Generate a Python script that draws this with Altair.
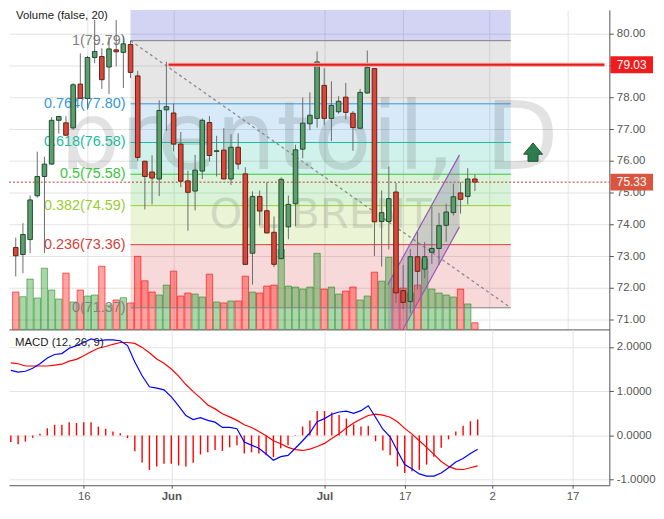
import altair as alt
import pandas as pd

# ---------------- data ----------------
idx = list(range(65))
opens = [73.27, 73.05, 73.52, 74.90, 75.51, 75.90, 77.28, 77.20, 77.04, 78.42,
         77.97, 79.26, 79.29, 78.96, 79.50, 79.42, 79.67, 78.68, 75.99, 75.65,
         75.43, 77.61, 77.51, 76.53, 75.37, 75.05, 75.68, 77.21, 76.30, 76.34,
         75.43, 76.43, 75.59, 73.09, 74.88, 74.43, 73.75, 72.92, 73.92, 74.65,
         76.37, 77.17, 77.34, 78.38, 77.34, 77.55, 78.01, 77.50, 77.03, 78.14,
         78.91, 74.09, 74.09, 75.02, 71.91, 71.57, 72.98, 72.59, 73.12, 73.24,
         73.97, 74.37, 74.99, 74.88, 75.43]
highs = [73.58, 74.04, 74.91, 76.29, 76.13, 77.38, 77.42, 77.41, 78.45, 79.39,
         79.31, 80.44, 79.55, 79.90, 80.44, 79.92, 79.79, 78.84, 76.00, 76.18,
         77.91, 79.13, 77.81, 76.91, 75.69, 76.19, 77.34, 77.41, 76.79, 77.03,
         76.84, 76.87, 75.80, 75.04, 75.07, 75.33, 74.25, 75.48, 74.91, 76.51,
         78.00, 78.16, 79.45, 78.92, 78.51, 78.04, 78.46, 77.57, 78.27, 79.48,
         78.91, 75.07, 75.82, 75.31, 72.72, 73.22, 73.76, 73.44, 74.57, 74.36,
         74.65, 75.28, 75.33, 75.77, 75.57]
lows = [72.36, 72.46, 73.09, 74.84, 73.10, 75.88, 76.86, 76.78, 76.98, 77.97,
        77.62, 79.08, 78.27, 78.11, 78.98, 78.30, 78.61, 76.00, 74.47, 74.63,
        74.89, 76.94, 76.30, 75.17, 73.80, 74.44, 75.43, 75.98, 75.51, 75.43,
        75.24, 75.73, 72.72, 72.10, 73.97, 73.71, 72.65, 72.90, 73.53, 73.94,
        76.08, 76.97, 77.05, 77.13, 76.63, 77.49, 77.31, 76.32, 77.00, 78.12,
        73.00, 72.67, 73.21, 71.52, 71.33, 71.21, 71.95, 72.30, 72.75, 72.72,
        73.45, 74.28, 74.34, 74.63, 75.05]
closes = [73.01, 73.68, 74.77, 75.51, 75.90, 77.28, 77.40, 76.81, 78.40, 77.97,
          79.26, 79.45, 78.56, 79.53, 79.44, 79.69, 78.79, 76.11, 75.51, 75.46,
          77.59, 77.71, 76.53, 75.36, 75.01, 75.71, 77.28, 76.17, 76.32, 75.43,
          76.43, 75.90, 72.74, 74.88, 74.42, 73.73, 72.74, 75.42, 74.63, 76.35,
          77.19, 77.44, 79.12, 77.34, 77.75, 77.88, 77.53, 77.05, 78.16, 78.95,
          74.08, 74.37, 74.81, 71.84, 71.54, 72.98, 72.52, 72.98, 73.24, 73.96,
          74.39, 74.87, 74.79, 75.43, 75.33]
volumes = [37.7, 33.0, 50.7, 31.7, 61.7, 39.7, 30.7, 56.7, 27.7, 39.7,
           33.7, 34.7, 63.7, 24.7, 29.7, 32.0, 26.7, 73.7, 49.0, 37.7,
           34.7, 44.7, 58.7, 33.7, 36.7, 35.7, 32.7, 55.7, 27.7, 26.7,
           28.7, 28.7, 53.7, 37.7, 36.7, 43.7, 44.7, 80.7, 43.7, 42.7,
           40.7, 42.7, 76.7, 40.7, 42.7, 35.7, 38.7, 42.7, 29.7, 33.7,
           57.7, 48.7, 72.7, 41.7, 41.7, 36.7, 44.7, 70.7, 40.7, 36.7,
           34.7, 32.7, 40.7, 25.7, 6.7]
macd_line = [1.47, 1.43, 1.45, 1.52, 1.62, 1.75, 1.83, 1.85, 1.97, 2.03,
             2.10, 2.18, 2.14, 2.16, 2.16, 2.14, 2.03, 1.66, 1.35, 1.10,
             1.07, 1.03, 0.87, 0.67, 0.45, 0.36, 0.40, 0.34, 0.30, 0.18,
             0.18, 0.15, -0.15, -0.22, -0.29, -0.42, -0.56, -0.48, -0.45, -0.29,
             -0.12, 0.06, 0.31, 0.38, 0.48, 0.53, 0.55, 0.50, 0.56, 0.67,
             0.41, 0.14, -0.03, -0.35, -0.66, -0.76, -0.87, -0.92, -0.92, -0.85,
             -0.73, -0.60, -0.52, -0.41, -0.31]
signal_line = [1.64, 1.62, 1.57, 1.57, 1.57, 1.57, 1.59, 1.61, 1.68, 1.72,
               1.80, 1.89, 1.97, 2.01, 2.06, 2.10, 2.10, 2.08, 1.99, 1.87,
               1.73, 1.63, 1.50, 1.34, 1.15, 0.99, 0.85, 0.69, 0.60, 0.49,
               0.42, 0.34, 0.24, 0.18, 0.09, -0.01, -0.12, -0.19, -0.27, -0.32,
               -0.34, -0.31, -0.25, -0.18, -0.07, 0.04, 0.17, 0.28, 0.37, 0.45,
               0.48, 0.46, 0.41, 0.31, 0.16, 0.03, -0.12, -0.27, -0.43, -0.59,
               -0.70, -0.76, -0.77, -0.73, -0.69]
histogram = [-0.15, -0.20, -0.14, -0.05, 0.035, 0.16, 0.24, 0.24, 0.30, 0.28,
             0.30, 0.30, 0.20, 0.15, 0.09, 0.05, -0.06, -0.36, -0.61, -0.78,
             -0.70, -0.64, -0.64, -0.68, -0.70, -0.62, -0.43, -0.38, -0.33, -0.35,
             -0.27, -0.22, -0.41, -0.38, -0.41, -0.45, -0.49, -0.29, -0.22, -0.01,
             0.20, 0.34, 0.55, 0.55, 0.52, 0.46, 0.38, 0.25, 0.20, 0.22,
             -0.13, -0.34, -0.45, -0.70, -0.85, -0.81, -0.78, -0.66, -0.48, -0.28,
             -0.09, 0.09, 0.22, 0.32, 0.36]

tick_idx = [10, 22, 43, 54, 66, 77]
tick_text = ["16", "Jun", "Jul", "17", "2", "17"]
month_ticks = [22, 43]
price_ticks = [71, 72, 73, 74, 75, 76, 77, 78, 79, 80]
macd_ticks = [-1, 0, 1, 2]

fib_ratio = ["1", "0.764", "0.618", "0.5", "0.382", "0.236", "0"]
fib_price = [79.79, 77.80, 76.58, 75.58, 74.59, 73.36, 71.37]
fib_ext_ratio = "1.618"
fib_ext_price = 84.99
fib_x = [16, 69]

level_price = 79.03
level_x = 21.3
last_price = closes[-1]

chan_x = [51.86, 61.85]
chan_upper = [72.10, 76.19]
chan_lower = [69.82, 73.92]

arrow_x = [72.1]
arrow_price = [76.27]

watermark_main = ["brentoil, D"]
watermark_sub = ["OIL BRENT"]
volume_title = ["Volume (false, 20)"]
macd_title = ["MACD (12, 26, 9)"]

# ---------------- layout / style ----------------
W, H1, H2 = 605, 322, 157
X_DOM = [-0.25, 82.05]
P_DOM = [70.688, 80.76]
M_DOM = [-1.126, 2.396]
VOL_DOM = [0, H1]
FONT = "Liberation Sans"
fib_colors = ["#808080", "#3498DB", "#1ABC9C", "#3CC43C", "#9ACD32", "#D43F3A", "#808080"]
ext_color = "#2323C3"
UP_FILL, UP_STROKE = "#5E9E6E", "#1F4D2E"
DN_FILL, DN_STROKE = "#D5483A", "#6B1E14"
ARROW = "M0,-1L1,0.2L0.53,0.2L0.53,0.95L-0.53,0.95L-0.53,0.2L-1,0.2Z"
BOX = "M-1,-0.395H1V0.395H-1Z"

# ---------------- tables ----------------
df = pd.DataFrame(dict(i=idx, open=opens, high=highs, low=lows, close=closes,
                       volume=volumes, macd=macd_line, signal=signal_line,
                       hist=histogram))
band_keys = [fib_ext_ratio] + fib_ratio[:-1]
band_df = pd.DataFrame(dict(key=band_keys, top=[fib_ext_price] + fib_price[:-1],
                            bottom=fib_price, x0=fib_x[0], x1=fib_x[1]))
fib_df = pd.DataFrame(dict(ratio=fib_ratio, price=fib_price, x0=fib_x[0], x1=fib_x[1],
                           label=[f"{r}({p:.2f})" for r, p in zip(fib_ratio, fib_price)]))
trend_df = pd.DataFrame(dict(x=fib_x, price=[fib_price[0], fib_price[-1]]))
chan_df = pd.DataFrame(dict(x=chan_x, upper=chan_upper, lower=chan_lower))
level_df = pd.DataFrame(dict(x0=[level_x], x1=[X_DOM[1]], price=[level_price]))
last_df = pd.DataFrame(dict(price=[last_price]))
arrow_df = pd.DataFrame(dict(x=arrow_x, price=arrow_price))
box_df = pd.DataFrame(dict(price=[level_price, last_price], kind=["level", "last"],
                           label=[f"{level_price:.2f}", f"{last_price:.2f}"]))

xs = alt.Scale(domain=X_DOM, nice=False, zero=False)
ps = alt.Scale(domain=P_DOM, nice=False, zero=False)
ms = alt.Scale(domain=M_DOM, nice=False, zero=False)

label_expr = " : ".join(f"datum.value == {v} ? '{t}'" for v, t in zip(tick_idx, tick_text)) + " : ''"
bold_test = " || ".join(f"datum.value == {v}" for v in month_ticks)

top_xaxis = alt.Axis(values=tick_idx, labels=False, ticks=False, domain=True, grid=True, title=None)
price_axis = alt.Axis(orient="right", values=price_ticks, format=".2f", tickSize=4,
                      labelPadding=3, grid=True, title=None, domain=True)
bot_xaxis = alt.Axis(values=tick_idx, labelExpr=label_expr,
                     labelFontWeight={"condition": {"test": bold_test, "value": "bold"}, "value": "normal"},
                     tickSize=3, labelPadding=2, grid=True, domain=True, title=None)
macd_axis = alt.Axis(orient="right", values=macd_ticks,
                     labelExpr="replace(format(datum.value, '.4f'), '\u2212', '-')",
                     tickSize=4, labelPadding=3, grid=True, title=None, domain=True)


def XT(f):
    return alt.X(f"{f}:Q", scale=xs, axis=top_xaxis)


def YP(f, axis=None):
    return alt.Y(f"{f}:Q", scale=ps, axis=axis)


def XM(f):
    return alt.X(f"{f}:Q", scale=xs, axis=bot_xaxis)


def YM(f):
    return alt.Y(f"{f}:Q", scale=ms, axis=macd_axis)


up = "datum.close >= datum.open"

bands = alt.Chart(band_df).mark_rect(clip=True, opacity=0.2).encode(
    x=XT("x0"), x2="x1", y=YP("top", price_axis), y2="bottom",
    color=alt.Color("key:N", scale=alt.Scale(domain=band_keys, range=[ext_color] + fib_colors[:-1]), legend=None))

wm1 = alt.Chart(pd.DataFrame(dict(t=watermark_main))).mark_text(
    font="DejaVu Sans", fontSize=96, color="#000000", opacity=0.11, align="center", baseline="alphabetic"
).encode(x=alt.value(W / 2), y=alt.value(160), text="t:N")
wm2 = alt.Chart(pd.DataFrame(dict(t=watermark_sub))).mark_text(
    font="DejaVu Sans", fontSize=42, color="#000000", opacity=0.11, align="center", baseline="alphabetic"
).encode(x=alt.value(314), y=alt.value(220), text="t:N")

vol = alt.Chart(df).mark_bar(size=6.4, strokeWidth=1, clip=True, orient="vertical").encode(
    x=XT("i"),
    y=alt.Y("volume:Q", scale=alt.Scale(domain=VOL_DOM, nice=False), axis=None),
    fill=alt.condition(up, alt.value("#008000"), alt.value("#FF0000")),
    stroke=alt.condition(up, alt.value("#008000"), alt.value("#FF0000")),
    fillOpacity=alt.condition(up, alt.value(0.33), alt.value(0.36)),
    strokeOpacity=alt.condition(up, alt.value(0.5), alt.value(0.6)))

fib_lines = alt.Chart(fib_df).mark_rule(strokeWidth=1).encode(
    x=XT("x0"), x2="x1", y=YP("price"),
    color=alt.Color("ratio:N", scale=alt.Scale(domain=fib_ratio, range=fib_colors), legend=None))
fib_labels = alt.Chart(fib_df).mark_text(align="right", baseline="middle", dx=-5, fontSize=14.5, font=FONT).encode(
    x=XT("x0"), y=YP("price"), text="label:N",
    color=alt.Color("ratio:N", scale=alt.Scale(domain=fib_ratio, range=fib_colors), legend=None))

trend = alt.Chart(trend_df).mark_line(strokeDash=[3, 3], color="#8A8A8A", strokeWidth=1.3).encode(
    x=XT("x"), y=YP("price"))

chan_fill = alt.Chart(chan_df).mark_area(clip=True, color="#7E6A9E", opacity=0.3, orient="vertical").encode(
    x=XT("x"), y=YP("upper"), y2="lower")
chan_up = alt.Chart(chan_df).mark_line(clip=True, color="#9B59B6", strokeWidth=1.2).encode(
    x=XT("x"), y=YP("upper"))
chan_lo = alt.Chart(chan_df).mark_line(clip=True, color="#9B59B6", strokeWidth=1.2).encode(
    x=XT("x"), y=YP("lower"))

wicks = alt.Chart(df).mark_rule(color="#6B6B6B", strokeWidth=1).encode(
    x=XT("i"), y=YP("low"), y2="high")
bodies = alt.Chart(df).mark_bar(size=4.6, strokeWidth=1).encode(
    x=XT("i"), y=YP("open"), y2="close",
    fill=alt.condition(up, alt.value(UP_FILL), alt.value(DN_FILL)),
    stroke=alt.condition(up, alt.value(UP_STROKE), alt.value(DN_STROKE)))

level_halo = alt.Chart(level_df).mark_rule(clip=True, color="#F7A0A0", strokeWidth=4).encode(
    x=XT("x0"), x2="x1", y=YP("price"))
level_line = alt.Chart(level_df).mark_rule(clip=True, color="#E81E1E", strokeWidth=2).encode(
    x=XT("x0"), x2="x1", y=YP("price"))
last_line = alt.Chart(last_df).mark_rule(color="#C0392B", strokeWidth=1, strokeDash=[2, 2]).encode(
    x=alt.value(0), x2=alt.value(W), y=YP("price"))

arrow = alt.Chart(arrow_df).mark_point(shape=ARROW, size=361, filled=True, fill="#2E7D4E",
                                       stroke="#1D5232", strokeWidth=1, opacity=1).encode(
    x=XT("x"), y=YP("price"))

boxes = alt.Chart(box_df).mark_point(shape=BOX, size=1849, filled=True, opacity=1, strokeWidth=0).encode(
    x=alt.value(627.5), y=YP("price"),
    color=alt.Color("kind:N", scale=alt.Scale(domain=["level", "last"], range=["#EE1C1C", "#D9553F"]), legend=None))
box_text = alt.Chart(box_df).mark_text(color="white", fontSize=12, font=FONT, align="center", baseline="middle").encode(
    x=alt.value(627.5), y=YP("price"), text="label:N")

vol_title = alt.Chart(pd.DataFrame(dict(t=volume_title))).mark_text(
    align="left", baseline="middle", fontSize=11.5, font=FONT, color="#1A1A1A").encode(
    x=alt.value(7), y=alt.value(6), text="t:N")

top = alt.layer(bands, wm1, wm2, vol, fib_lines, fib_labels, trend, chan_fill, chan_up, chan_lo,
                wicks, bodies, level_halo, level_line, last_line, arrow, boxes, box_text, vol_title
                ).resolve_scale(y="independent", color="independent").properties(width=W, height=H1)

hist = alt.Chart(df).mark_rule(color="#FF0000", strokeWidth=1.4).encode(
    x=XM("i"), y=YM("hist"), y2=alt.datum(0))
sig = alt.Chart(df).mark_line(color="#FF0000", strokeWidth=1.2).encode(x=XM("i"), y=YM("signal"))
mac = alt.Chart(df).mark_line(color="#0000FF", strokeWidth=1.2).encode(x=XM("i"), y=YM("macd"))
m_title = alt.Chart(pd.DataFrame(dict(t=macd_title))).mark_text(
    align="left", baseline="middle", fontSize=11.5, font=FONT, color="#1A1A1A").encode(
    x=alt.value(6), y=alt.value(14), text="t:N")

bottom = alt.layer(hist, sig, mac, m_title).properties(width=W, height=H2)

chart = alt.vconcat(top, bottom, spacing=0, padding=0, background="white").configure_view(
    stroke=None).configure_axis(
    labelFont=FONT, labelFontSize=11.5, labelColor="#555555", domainColor="#555555",
    tickColor="#555555", gridColor="#E3E3E3", domainWidth=1)

chart.save("out.html", embed_options={"renderer": "svg", "actions": False})
